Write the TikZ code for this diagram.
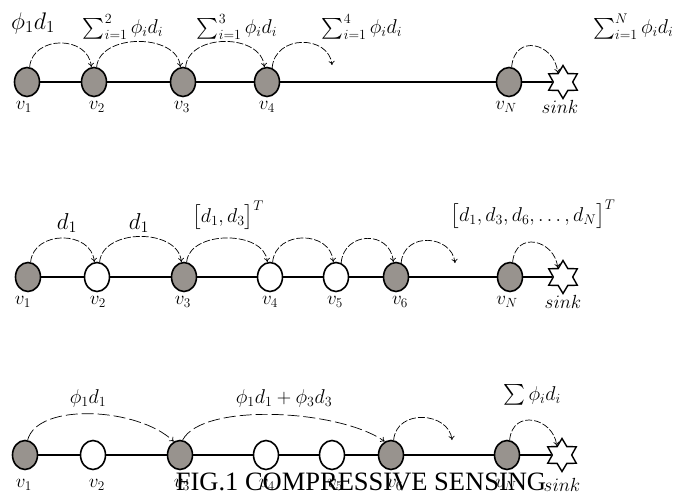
\RequirePackage{fix-cm}
\documentclass[tikz,border=0pt]{standalone}
\usepackage{amsmath}
\usepackage{fontspec}
\newfontfamily\capfont{Liberation Serif}
\usetikzlibrary{shapes.geometric,arrows.meta}
\definecolor{nodegray}{RGB}{152,147,142}
\tikzset{
  gnode/.style={ellipse, draw=black, line width=1.6pt, fill=nodegray, minimum width=25pt, minimum height=29pt, inner sep=0pt},
  wnode/.style={gnode, fill=white},
  sinknode/.style={star, star points=6, star point ratio=1.7, draw=black, line width=1.4pt, fill=white, minimum size=33pt, inner sep=0pt},
  link/.style={line width=1.1pt},
  arcs/.style={dash pattern=on 7pt off 2pt, line width=0.7pt, -{To[length=4pt,width=6pt]}},
  longarcs/.style={arcs, dash pattern=on 12pt off 4pt},
  mlabel/.style={font=\fontsize{20}{24}\selectfont, inner sep=0pt},
  biglabel/.style={font=\fontsize{24}{28}\selectfont, inner sep=0pt},
  vlabel/.style={font=\fontsize{19}{22}\selectfont, inner sep=0pt},
  caption/.style={font=\capfont\fontsize{26.5}{28}\selectfont, inner sep=0pt, anchor=base}
}
\begin{document}
\begin{tikzpicture}[x=1pt,y=-1pt]
\useasboundingbox (0,0) rectangle (683,498);
% ---------------- Row 1 ----------------
\node[gnode] (a1) at (27,82) {};
\node[gnode] (a2) at (94,82) {};
\node[gnode] (a3) at (183,82) {};
\node[gnode] (a4) at (267,82) {};
\node[gnode] (aN) at (509,82) {};
\node[sinknode] (aS) at (563,82) {};
\foreach \p/\q in {a1/a2,a2/a3,a3/a4,a4/aN,aN/aS} \draw[link] (\p) -- (\q);
\coordinate (af) at (332,65);
\draw[arcs] (a1.80) .. controls +(3,-32) and +(-3,-32) .. (a2.100);
\draw[arcs] (a2.80) .. controls +(3,-34) and +(-3,-34) .. (a3.100);
\draw[arcs] (a3.80) .. controls +(3,-34) and +(-3,-34) .. (a4.100);
\draw[arcs] (a4.70) .. controls +(3,-34) and +(-3,-30) .. (af);
\draw[arcs] (aN.80) .. controls +(3,-34) and +(-3,-30) .. (aS.120);
\node[biglabel] (ta1) at (33,23) {$\phi_1 d_1$};
\node[mlabel] (ta2) at (123,27) {$\sum_{i=1}^{2}\phi_i d_i$};
\node[mlabel] (ta3) at (237,27) {$\sum_{i=1}^{3}\phi_i d_i$};
\node[mlabel] (ta4) at (362,27) {$\sum_{i=1}^{4}\phi_i d_i$};
\node[mlabel, anchor=west] (taN) at (593,27) {$\sum_{i=1}^{N}\phi_i d_i$};
\node[vlabel] (la1) at (24,107) {$v_1$};
\node[vlabel] (la2) at (97,107) {$v_2$};
\node[vlabel] (la3) at (182,107) {$v_3$};
\node[vlabel] (la4) at (267,107) {$v_4$};
\node[vlabel] (laN) at (506,107) {$v_N$};
\node[vlabel] (laS) at (560,107) {$sink$};
% ---------------- Row 2 ----------------
\node[gnode] (b1) at (28,277) {};
\node[wnode] (b2) at (97,277) {};
\node[gnode] (b3) at (184,277) {};
\node[wnode] (b4) at (270,277) {};
\node[wnode] (b5) at (336,277) {};
\node[gnode] (b6) at (396,277) {};
\node[gnode] (bN) at (510,277) {};
\node[sinknode] (bS) at (563,277) {};
\foreach \p/\q in {b1/b2,b2/b3,b3/b4,b4/b5,b5/b6,b6/bN,bN/bS} \draw[link] (\p) -- (\q);
\coordinate (bf) at (455,263);
\draw[arcs] (b1.80) .. controls +(3,-32) and +(-3,-32) .. (b2.100);
\draw[arcs] (b2.80) .. controls +(3,-34) and +(-3,-34) .. (b3.100);
\draw[arcs] (b3.80) .. controls +(3,-32) and +(-3,-32) .. (b4.100);
\draw[arcs] (b4.80) .. controls +(3,-32) and +(-3,-32) .. (b5.100);
\draw[arcs] (b5.70) .. controls +(3,-32) and +(-3,-32) .. (b6.100);
\draw[arcs] (b6.70) .. controls +(3,-32) and +(-3,-28) .. (bf);
\draw[arcs] (bN.80) .. controls +(3,-32) and +(-3,-28) .. (bS.120);
\node[font=\fontsize{23}{26}\selectfont, inner sep=0pt] (tb1) at (67,223) {$d_1$};
\node[font=\fontsize{23}{26}\selectfont, inner sep=0pt] (tb2) at (139,223) {$d_1$};
\node[mlabel] (tb3) at (228,215) {$\bigl[d_1,d_3\bigr]^T$};
\node[mlabel] (tb4) at (533,214) {$\bigl[d_1,d_3,d_6,\ldots,d_N\bigr]^T$};
\node[vlabel] (lb1) at (23,302) {$v_1$};
\node[vlabel] (lb2) at (98,302) {$v_2$};
\node[vlabel] (lb3) at (183,302) {$v_3$};
\node[vlabel] (lb4) at (270,302) {$v_4$};
\node[vlabel] (lb5) at (335,302) {$v_5$};
\node[vlabel] (lb6) at (400,302) {$v_6$};
\node[vlabel] (lbN) at (507,302) {$v_N$};
\node[vlabel] (lbS) at (563,302) {$sink$};
% ---------------- Row 3 ----------------
\node[gnode] (c1) at (25,455) {};
\node[wnode] (c2) at (93,455) {};
\node[gnode] (c3) at (180,455) {};
\node[wnode] (c4) at (266,455) {};
\node[wnode] (c5) at (332,455) {};
\node[gnode] (c6) at (391,455) {};
\node[gnode] (cN) at (507,455) {};
\node[sinknode] (cS) at (562,455) {};
\foreach \p/\q in {c1/c2,c2/c3,c3/c4,c4/c5,c5/c6,c6/cN,cN/cS} \draw[link] (\p) -- (\q);
\coordinate (cf) at (452,440);
\draw[longarcs] (c1.80) .. controls +(10,-38) and +(-35,-34) .. (c3.115);
\draw[longarcs] (c3.80) .. controls +(20,-38) and +(-45,-32) .. (c6.115);
\draw[arcs] (c6.80) .. controls +(3,-32) and +(-3,-28) .. (cf);
\draw[arcs] (cN.80) .. controls +(3,-32) and +(-3,-28) .. (cS.120);
\node[mlabel] (tc1) at (88,398) {$\phi_1 d_1$};
\node[mlabel] (tc2) at (284,398) {$\phi_1 d_1+\phi_3 d_3$};
\node[mlabel] (tc3) at (532,395) {$\sum\phi_i d_i$};
\node[vlabel] (lc1) at (24,485) {$v_1$};
\node[vlabel] (lc2) at (97,485) {$v_2$};
\node[vlabel] (lc3) at (182,485) {$v_3$};
\node[vlabel] (lc4) at (267,485) {$v_4$};
\node[vlabel] (lc5) at (335,485) {$v_5$};
\node[vlabel] (lc6) at (395,485) {$v_6$};
\node[vlabel] (lcN) at (506,485) {$v_N$};
\node[vlabel] (lcS) at (562,485) {$sink$};
\node[caption] (cap) at (361,490) {FIG.1 COMPRESSIVE SENSING};
\end{tikzpicture}
\end{document}
